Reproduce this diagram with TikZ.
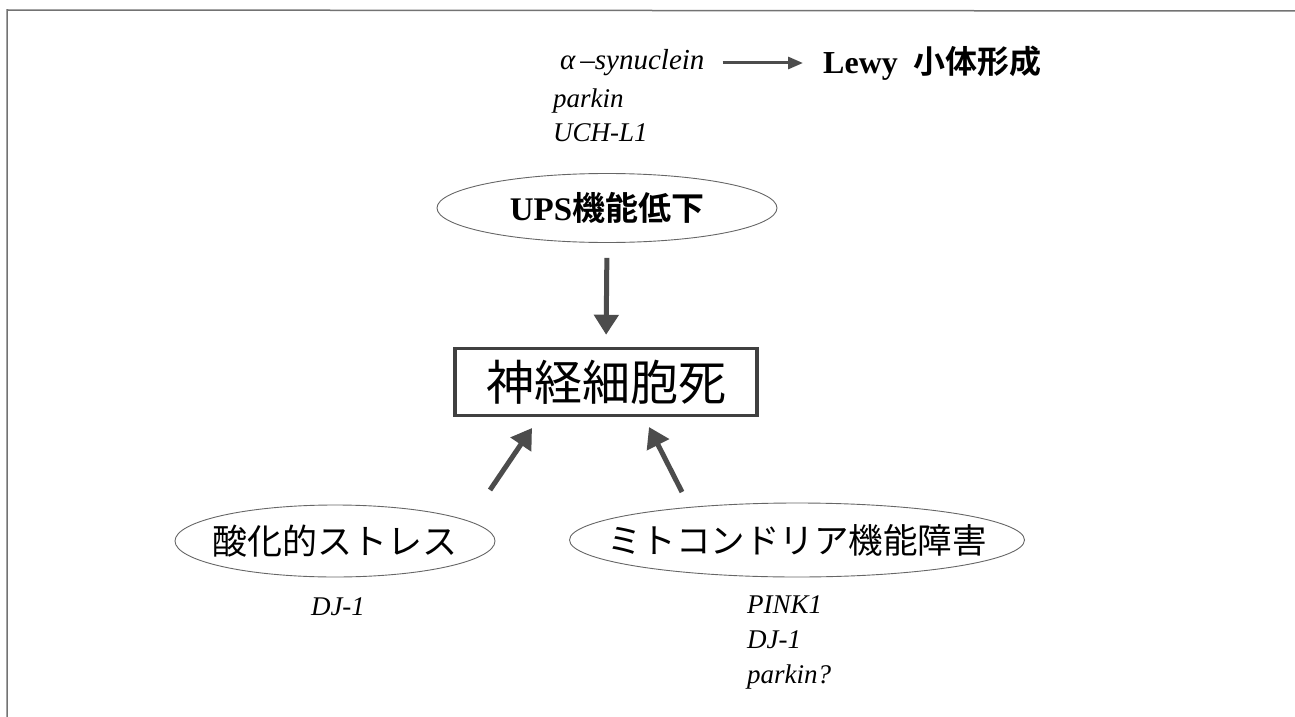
\documentclass[tikz,border=0pt]{standalone}
\usepackage{fontspec}
\setmainfont{Liberation Serif}
\newfontfamily\jp{Noto Sans CJK JP}[BoldFont={* Bold}]
\usetikzlibrary{arrows.meta,shapes.geometric}
\begin{document}
\begin{tikzpicture}[x=1pt,y=-1pt,
  ell/.style={ellipse, draw=black!60, line width=0.9pt, inner ysep=0pt},
  gene/.style={anchor=west, inner sep=0pt, font=\fontsize{27pt}{30pt}\selectfont\itshape},
  bigarrow/.style={draw=black!70, line width=5pt, -{Triangle[length=20pt,width=24pt]}},
  thinarrow/.style={draw=black!70, line width=3pt, -{Triangle[length=15pt,width=12pt]}}
]
\useasboundingbox (0,0) rectangle (1295,717);
% frame
\draw[black!55, line width=1.5pt] (7,717) -- (7,10) -- (1295,11);

% top genes
\node[gene, font=\fontsize{29pt}{30pt}\selectfont\itshape] (syn) at (560,63) {α\hspace{5pt}–synuclein};
\node[gene] (park1) at (553,101) {parkin};
\node[gene] (uch) at (553,133) {UCH-L1};
\node[anchor=west, inner sep=0pt, font=\fontsize{32pt}{34pt}\selectfont\bfseries] (lewy) at (823,63) {Lewy\hspace{16pt}{\jp 小体形成}};
\draw[thinarrow, shorten <=18pt, shorten >=20pt] (syn.east) -- (lewy.west);

% UPS ellipse
\node[ell, inner xsep=0pt, minimum width=340pt, minimum height=69pt, font=\fontsize{33pt}{35pt}\selectfont\bfseries] (ups) at (607,208) {UPS{\jp 機能低下}};

% central box
\node[draw=black!75, line width=3.5pt, minimum width=302pt, minimum height=67pt, inner sep=0pt, font=\jp\fontsize{48pt}{50pt}\selectfont] (box) at (606,382) {神経細胞死};

\draw[bigarrow, shorten <=15pt, shorten >=12pt] (ups.south) -- (box.north);

% bottom ellipses
\node[ell, inner xsep=-14pt, minimum width=320pt, minimum height=72pt, font=\jp\fontsize{35pt}{37pt}\selectfont] (oxid) at (335,541) {酸化的ストレス};
\node[ell, inner xsep=-32pt, minimum width=455pt, minimum height=74pt, font=\jp\fontsize{34.5pt}{37pt}\selectfont] (mito) at (797,540) {ミトコンドリア機能障害};

\coordinate (l1) at (490,490);
\coordinate (l2) at (532,428);
\coordinate (r1) at (682,492);
\coordinate (r2) at (649,427);
\draw[bigarrow] (l1) -- (l2);
\draw[bigarrow] (r1) -- (r2);

% bottom genes
\node[gene, anchor=center] (dj1a) at (338,607) {DJ-1};
\node[gene] (pink) at (747,605) {PINK1};
\node[gene] (dj1b) at (747,640) {DJ-1};
\node[gene] (park2) at (747,677) {parkin?};
\end{tikzpicture}
\end{document}
